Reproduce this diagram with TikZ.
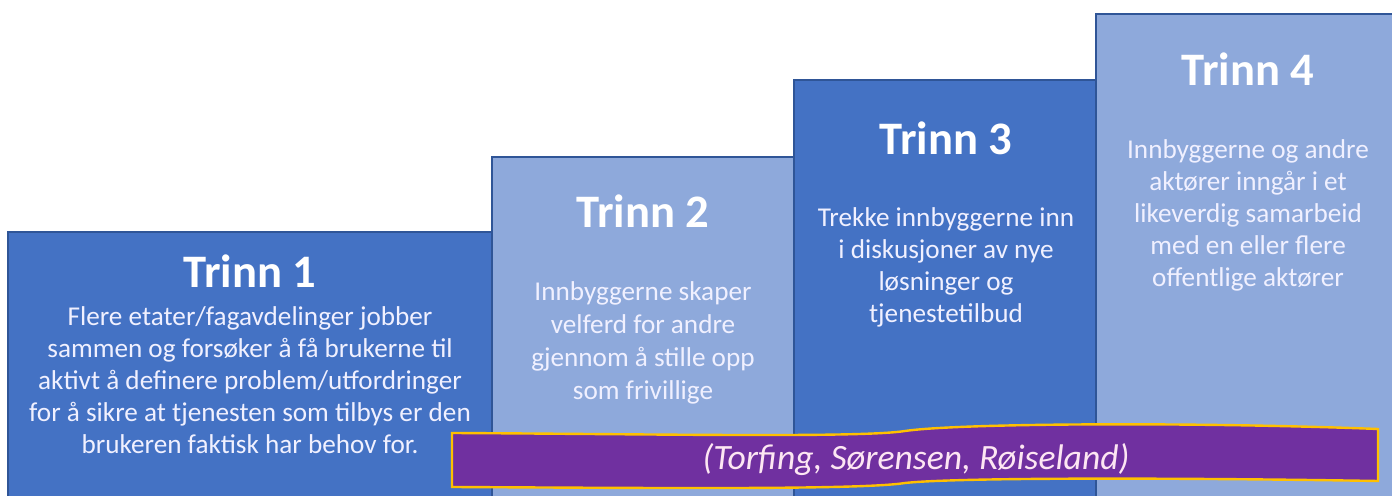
\documentclass[tikz,border=0pt]{standalone}
\usepackage{fontspec}
\setmainfont{Carlito}
\definecolor{stepdark}{HTML}{4472C4}
\definecolor{steplight}{HTML}{8EA9DB}
\definecolor{stepedge}{HTML}{2F5597}
\definecolor{bandfill}{HTML}{7030A0}
\definecolor{bandedge}{HTML}{FFC000}
\tikzset{
  titletext/.style={text=white,font=\bfseries\fontsize{23.3}{26}\selectfont},
  bodytext/.style={text=white!94!blue,align=center,font=\fontsize{13.6}{16}\selectfont},
  stepshade/.style={fill=#1,draw=stepedge,line width=1pt}
}
\begin{document}
\begin{tikzpicture}[x=0.5pt,y=-0.5pt]
\useasboundingbox (0,0) rectangle (1392,496);
\fill[white] (0,0) rectangle (1392,496);

% the four steps
\draw[stepshade=stepdark] (8,232) rectangle (492,500);
\draw[stepshade=steplight] (492,157) rectangle (794,500);
\draw[stepshade=stepdark] (794,80) rectangle (1096,500);
\draw[stepshade=steplight] (1096,14) rectangle (1396,500);

\node[titletext] (title1) at (250,271) {Trinn 1};
\node[bodytext] (body1) at (250,380) {Flere etater/fagavdelinger jobber\\
  sammen og forsøker å få brukerne til\\
  aktivt å definere problem/utfordringer\\
  for å sikre at tjenesten som tilbys er den\\
  brukeren faktisk har behov for.};

\node[titletext] (title2) at (643,211) {Trinn 2};
\node[bodytext,font=\fontsize{13.6}{16.5}\selectfont] (body2) at (643,343) {Innbyggerne skaper\\
  velferd for andre\\
  gjennom å stille opp\\
  som frivillige};

\node[titletext] (title3) at (946,138) {Trinn 3};
\node[bodytext] (body3) at (946,267) {Trekke innbyggerne inn\\
  i diskusjoner av nye\\
  løsninger og\\
  tjenestetilbud};

\node[titletext] (title4) at (1248,69) {Trinn 4};
\node[bodytext] (body4) at (1248,215) {Innbyggerne og andre\\
  aktører inngår i et\\
  likeverdig samarbeid\\
  med en eller flere\\
  offentlige aktører};

% banner with the sources
\draw[fill=bandfill,draw=bandedge,line width=1.2pt]
  (452,433) .. controls (650,434) and (860,438) .. (905,431)
  .. controls (960,423) and (1200,422) .. (1378,429)
  -- (1378,481)
  .. controls (1200,478) and (960,477) .. (905,483)
  .. controls (860,490) and (650,488) .. (452,487) -- cycle;
\node[text=white!90!magenta,font=\itshape\fontsize{17.8}{20}\selectfont] (source) at (916,460)
  {(Torfing, Sørensen, Røiseland)};
\end{tikzpicture}
\end{document}
